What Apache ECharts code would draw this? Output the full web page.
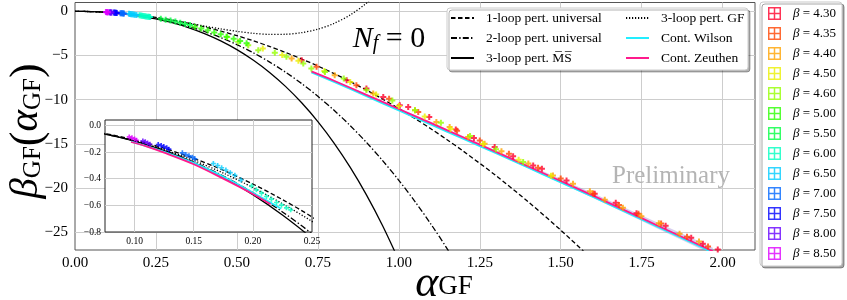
<!DOCTYPE html>
<html><head><meta charset="utf-8">
<script src="https://cdn.jsdelivr.net/npm/echarts@6/dist/echarts.min.js"></script>
<style>html,body{margin:0;padding:0;background:#fff}#c{width:847px;height:300px}</style>
</head><body><div id="c"></div>
<script>
// ---------- data ----------
const alphaGrid = [0,0.05,0.075,0.1,0.125,0.15,0.175,0.2,0.225,0.25,0.3,0.35,0.4,0.45,0.5,0.55,0.6,0.65,0.7,0.75,0.8,0.85,0.9,0.95,1.0,1.05,1.1,1.15,1.2,1.3,1.4,1.5,1.6];
const oneLoop = [0,-0.0275,-0.0619,-0.11,-0.1719,-0.2475,-0.3369,-0.44,-0.5569,-0.6875,-0.99,-1.3475,-1.76,-2.2275,-2.75,-3.3275,-3.96,-4.6475,-5.39,-6.1875,-7.04,-7.9475,-8.91,-9.9275,-11,-12.1275,-13.31,-14.5475,-15.84,-18.59,-21.56,-24.75,-28.16];
const twoLoop = [0,-0.0285,-0.0653,-0.1181,-0.1877,-0.2749,-0.3804,-0.5049,-0.6494,-0.8143,-1.2092,-1.6955,-2.2795,-2.9672,-3.7646,-4.678,-5.7133,-6.8765,-8.174,-9.6115,-11.196,-12.9325,-14.827,-16.887,-19.117,-21.524,-24.114,-26.893,-29.866];
const threeLoopMS = [0,-0.0286,-0.0656,-0.119,-0.1899,-0.2795,-0.3889,-0.5194,-0.6726,-0.8496,-1.2825,-1.8312,-2.5111,-3.3382,-4.33,-5.5058,-6.8857,-8.4915,-10.346,-12.474,-14.901,-17.654,-20.762,-24.255,-28.163];
const threeLoopGF = [0,-0.0284,-0.0645,-0.1157,-0.1818,-0.2628,-0.3579,-0.4665,-0.5879,-0.7206,-1.0148,-1.3354,-1.6651,-1.9831,-2.2646,-2.4819,-2.6029,-2.5924,-2.4116,-2.0178,-1.3656,-0.4044,0.9194,2.661];

const zeuthenLowA = [0.097,0.11,0.125,0.15,0.175,0.2,0.215];
const zeuthenLowB = [-0.125,-0.158,-0.205,-0.292,-0.4,-0.515,-0.592];
const wilsonLowA = [0.097,0.125,0.15,0.175,0.2,0.224];
const wilsonLowB = [-0.122,-0.198,-0.282,-0.385,-0.505,-0.625];
const contHighA = [0.73,0.8,0.9,1.0,1.1,1.2,1.3,1.4,1.5,1.6,1.7,1.8,1.9,1.97];
const zeuthenHighB = [-6.8,-7.85,-9.45,-11.05,-12.65,-14.27,-15.9,-17.55,-19.2,-20.85,-22.55,-24.25,-25.95,-27.15];
const zeuthenHighErr = [0.05,0.07,0.09,0.11,0.13,0.15,0.17,0.2,0.23,0.26,0.3,0.34,0.38,0.4];
const wilsonHighB = [-6.9,-7.98,-9.6,-11.22,-12.82,-14.44,-16.06,-17.7,-19.35,-21.0,-22.68,-24.38,-26.08,-27.3];

const b430 = [[0.70,-5.52],[0.839,-7.79],[0.90,-8.73],[0.952,-9.68],[1.003,-10.62],[1.029,-10.82],[1.094,-11.95],[1.176,-13.38],[1.232,-14.33],[1.296,-15.35],[1.353,-16.4],[1.415,-17.43],[1.442,-17.8],[1.518,-19.13],[1.605,-20.63],[1.67,-21.66],[1.734,-22.83],[1.824,-24.26],[1.903,-25.62],[1.939,-26.3],[1.985,-26.95]];
const b435 = [[0.746,-6.28],[0.869,-8.36],[0.97,-9.9],[1.06,-11.4],[1.18,-13.5],[1.25,-14.6],[1.34,-16.1],[1.43,-17.7],[1.5,-18.9],[1.6,-20.6],[1.68,-21.9],[1.74,-22.9],[1.81,-24.0],[1.89,-25.5],[1.955,-26.6]];
const b440 = [[0.669,-5.33],[0.802,-7.22],[0.921,-9.3],[1.05,-11.2],[1.116,-12.52],[1.157,-13.08],[1.214,-14.22],[1.265,-14.97],[1.317,-15.84],[1.4,-17.2],[1.476,-18.56],[1.538,-19.5],[1.59,-20.34],[1.636,-21.32],[1.692,-22.22],[1.749,-23.17],[1.803,-23.97],[1.867,-25.17],[1.927,-26.04]];
const b450 = [[0.58,-4.2],[0.64,-4.95],[0.69,-5.6],[0.77,-6.75],[0.85,-8.0],[0.93,-9.4],[1.0,-10.7],[1.08,-11.9],[1.16,-13.3],[1.26,-15.0],[1.37,-16.8],[1.47,-18.6]];
const b460 = [[0.47,-2.9],[0.504,-3.45],[0.535,-3.85],[0.566,-4.39],[0.617,-4.69],[0.653,-5.15],[0.705,-5.9],[0.73,-6.46],[0.772,-6.85],[0.83,-7.6],[0.9,-8.9],[0.98,-10.1],[1.05,-11.2],[1.13,-12.6],[1.22,-14.1],[1.3,-15.6],[1.384,-17.05]];
const b500 = [[0.37,-1.75],[0.39,-1.95],[0.41,-2.15],[0.43,-2.38],[0.45,-2.6],[0.468,-2.88],[0.49,-3.1],[0.51,-3.35],[0.53,-3.6]];
const b550 = [[0.265,-0.85],[0.28,-0.95],[0.295,-1.05],[0.31,-1.16],[0.325,-1.3],[0.34,-1.42],[0.355,-1.55]];
const b600 = [[0.1989,-0.455],[0.203,-0.484],[0.2073,-0.509],[0.2115,-0.534],[0.2157,-0.554],[0.22,-0.579],[0.2242,-0.599],[0.2284,-0.619],[0.232,-0.634]];
const b650 = [[0.1666,-0.286],[0.1702,-0.301],[0.1736,-0.318],[0.1772,-0.335],[0.1809,-0.355],[0.1848,-0.375],[0.19,-0.41]];
const b700 = [[0.1404,-0.206],[0.1433,-0.219],[0.146,-0.229],[0.1489,-0.239],[0.151,-0.251]];
const b750 = [[0.120,-0.144],[0.1225,-0.152],[0.1247,-0.159],[0.1272,-0.169],[0.129,-0.179]];
const b800 = [[0.107,-0.117],[0.109,-0.124],[0.111,-0.132],[0.113,-0.142]];
const b850 = [[0.0955,-0.087],[0.0978,-0.094],[0.1,-0.102],[0.1017,-0.112]];

const betaLabels = ['4.30','4.35','4.40','4.50','4.60','5.00','5.50','6.00','6.50','7.00','7.50','8.00','8.50'];
const betaColors = ['#ff002b','#ff4400','#ffa200','#eaf000','#95ff00','#2bff00','#00ff40','#00ffc0','#00ccff','#0066ff','#0000ff','#6600ff','#dd00ff'];
const betaData = [b430,b435,b440,b450,b460,b500,b550,b600,b650,b700,b750,b800,b850];
const insetBetas = ['6.00','6.50','7.00','7.50','8.00','8.50'];

const xTicksMain = {min:0, max:2.1, interval:0.25};
const yRangeMain = {min:-27, max:1};
const xRangeInset = {min:0.075, max:0.25};
const yRangeInset = {min:-0.8, max:0.04};

// ---------- chart ----------
const SERIF = "'Liberation Serif','DejaVu Serif',serif";
const plusSym = 'path://M2,0H4V2H6V4H4V6H2V4H0V2H2Z';
const boxIcon = 'path://M0,0L14,0L14,14L0,14Z M1.6,1.6L1.6,6.2L6.2,6.2L6.2,1.6Z M7.8,1.6L7.8,6.2L12.4,6.2L12.4,1.6Z M1.6,7.8L1.6,12.4L6.2,12.4L6.2,7.8Z M7.8,7.8L7.8,12.4L12.4,12.4L12.4,7.8Z';
const minus = v => (v < 0 ? '\u2212' : '');

const N1 = '1-loop pert. universal', N2 = '2-loop pert. universal', N3 = '3-loop pert. M\u0305S\u0305';
const NGF = '3-loop pert. GF', NW = 'Cont. Wilson', NZ = 'Cont. Zeuthen';

const theory = [
  {name:N1, vals:oneLoop, type:[4.5,2.5]},
  {name:N2, vals:twoLoop, type:[6,2.2,1.4,2.2]},
  {name:N3, vals:threeLoopMS, type:'solid'},
  {name:NGF, vals:threeLoopGF, type:[1.2,1.8]}
];
const series = [];
[0,1].forEach(g => {
  const zb = g === 0 ? 2 : 4;
  theory.forEach(t => {
    series.push({type:'line', name:t.name, xAxisIndex:g, yAxisIndex:g, z:zb, symbol:'none', smooth:0.3,
      data: t.vals.map((v,i)=>[alphaGrid[i], v]),
      lineStyle:{color:'#000', width:1.3, type:t.type}, itemStyle:{color:'#000'}});
  });
  series.push({type:'line', name:NW, xAxisIndex:g, yAxisIndex:g, z:zb, symbol:'none', smooth:0.3,
    data: wilsonLowA.map((a,i)=>[a, wilsonLowB[i]]), lineStyle:{color:'#22eeff', width:1.8}, itemStyle:{color:'#22eeff'}});
  series.push({type:'line', name:NZ, xAxisIndex:g, yAxisIndex:g, z:zb, symbol:'none', smooth:0.3,
    data: zeuthenLowA.map((a,i)=>[a, zeuthenLowB[i]]), lineStyle:{color:'#ff1a8c', width:1.8}, itemStyle:{color:'#ff1a8c'}});
});
series.push({type:'custom', name:'Zeuthen band', xAxisIndex:0, yAxisIndex:0, z:2, clip:true, silent:true,
  data: contHighA.map((a,i)=>[a, zeuthenHighB[i]]),
  renderItem:(params, api) => {
    if (params.dataIndex !== 0) return;
    const up = contHighA.map((a,i)=>api.coord([a, zeuthenHighB[i] + zeuthenHighErr[i]]));
    const lo = contHighA.map((a,i)=>api.coord([a, zeuthenHighB[i] - zeuthenHighErr[i]])).reverse();
    return {type:'polygon', shape:{points: up.concat(lo)}, style:{fill:'rgba(150,125,210,0.38)'}};
  }});
series.push({type:'line', name:NW, xAxisIndex:0, yAxisIndex:0, z:2, symbol:'none', smooth:0.3,
  data: contHighA.map((a,i)=>[a, wilsonHighB[i]]), lineStyle:{color:'#22eeff', width:1.8}, itemStyle:{color:'#22eeff'}});
series.push({type:'line', name:NZ, xAxisIndex:0, yAxisIndex:0, z:2, symbol:'none', smooth:0.3,
  data: contHighA.map((a,i)=>[a, zeuthenHighB[i]]), lineStyle:{color:'#ff1a8c', width:1.8}, itemStyle:{color:'#ff1a8c'}});

betaLabels.forEach((b,k) => {
  const nm = '\u03b2 = ' + b;
  series.push({type:'scatter', name:nm, xAxisIndex:0, yAxisIndex:0, z:3, symbol:plusSym, symbolSize:6,
    data: betaData[k], itemStyle:{color:betaColors[k]}});
  if (insetBetas.indexOf(b) >= 0) {
    series.push({type:'scatter', name:nm, xAxisIndex:1, yAxisIndex:1, z:5, symbol:plusSym, symbolSize:5,
      data: betaData[k], itemStyle:{color:betaColors[k]}});
  }
});

const gridLine = {show:true, showMinLine:false, showMaxLine:false, lineStyle:{color:'#cdcdcd', width:1}};
const lblMain = {fontFamily:SERIF, fontSize:15, color:'#000'};
const lblInset = {fontFamily:SERIF, fontSize:9.5, color:'#000'};
const lineLegend = {orient:'vertical', itemWidth:23, itemHeight:13, itemGap:6, padding:0,
  itemStyle:{opacity:0}, textStyle:{fontFamily:SERIF, fontSize:13.5, color:'#000', padding:[0,0,0,7]}, z:5};

const option = {
  animation:false,
  backgroundColor:'#fff',
  grid:[
    {left:75, right:92, top:2.5, bottom:50, show:true, borderColor:'#555', borderWidth:1, backgroundColor:'#fff', outerBoundsMode:'none', containLabel:false},
    {left:105, top:120, width:207, height:112, show:true, borderColor:'#222', borderWidth:1, backgroundColor:'#fff', z:3, outerBoundsMode:'none', containLabel:false}
  ],
  xAxis:[
    {type:'value', gridIndex:0, min:xTicksMain.min, max:xTicksMain.max, interval:xTicksMain.interval,
      axisLine:{show:false}, axisTick:{show:false}, splitLine:gridLine,
      axisLabel:Object.assign({margin:6, showMaxLabel:false, formatter:v=>v.toFixed(2)}, lblMain)},
    {type:'value', gridIndex:1, z:3, min:xRangeInset.min, max:xRangeInset.max, splitNumber:4,
      axisLine:{show:false}, axisTick:{show:false}, splitLine:gridLine,
      axisLabel:Object.assign({margin:4, showMinLabel:false, showMaxLabel:true, formatter:v=>v.toFixed(2)}, lblInset)}
  ],
  yAxis:[
    {type:'value', gridIndex:0, min:yRangeMain.min, max:yRangeMain.max, splitNumber:5,
      axisLine:{show:false}, axisTick:{show:false}, splitLine:gridLine,
      axisLabel:Object.assign({margin:7, showMinLabel:false, showMaxLabel:false, formatter:v=>minus(v)+Math.abs(v)}, lblMain)},
    {type:'value', gridIndex:1, z:3, min:yRangeInset.min, max:yRangeInset.max, splitNumber:4,
      axisLine:{show:false}, axisTick:{show:false}, splitLine:gridLine,
      axisLabel:Object.assign({margin:4, showMinLabel:true, showMaxLabel:false, formatter:v=>minus(v)+Math.abs(v).toFixed(1)}, lblInset)}
  ],
  legend:[
    Object.assign({left:450, top:11, data:[N1,N2,N3]}, lineLegend),
    Object.assign({left:625, top:11, data:[NGF,NW,NZ]}, lineLegend),
    {left:760, top:2, orient:'vertical', itemWidth:13, itemHeight:13, itemGap:7, padding:[5,6,6,8],
      icon:boxIcon, data:betaLabels.map(b=>'\u03b2 = '+b),
      backgroundColor:'#fff', borderColor:'#c8c8c8', borderWidth:1, borderRadius:3,
      shadowColor:'rgba(0,0,0,0.35)', shadowOffsetX:2, shadowOffsetY:2, shadowBlur:0,
      formatter: n => '{i|\u03b2} = ' + n.split('= ')[1],
      textStyle:{fontFamily:SERIF, fontSize:13, color:'#000', padding:[0,0,0,7], rich:{i:{fontFamily:SERIF, fontSize:13, fontStyle:'italic'}}}}
  ],
  graphic:[
    {type:'rect', z:3, shape:{x:447, y:8, width:301, height:62, r:3},
      style:{fill:'#fff', stroke:'#cccccc', lineWidth:1, shadowColor:'rgba(0,0,0,0.3)', shadowOffsetX:2, shadowOffsetY:2, shadowBlur:0}},
    {type:'text', z:1, x:671, y:176, style:{text:'Preliminary', fontFamily:SERIF, fontSize:25, fill:'#b4b4b4', align:'center', verticalAlign:'middle'}},
    {type:'text', z:5, x:389, y:39, style:{text:'{n|N}{s|f}{e| = 0}', fill:'#000', align:'center', verticalAlign:'middle',
      rich:{n:{fontFamily:SERIF, fontSize:30, fontStyle:'italic', verticalAlign:'top', lineHeight:30},
            s:{fontFamily:SERIF, fontSize:20, fontStyle:'italic', verticalAlign:'bottom', lineHeight:20, padding:[14,0,0,0]},
            e:{fontFamily:SERIF, fontSize:30, verticalAlign:'top', lineHeight:30}}}},
    {type:'text', z:5, x:444, y:281, style:{text:'{a|\u03b1}{s|GF}', fill:'#000', align:'center', verticalAlign:'middle',
      rich:{a:{fontFamily:SERIF, fontSize:44, fontStyle:'italic', verticalAlign:'top', lineHeight:38},
            s:{fontFamily:SERIF, fontSize:27, verticalAlign:'bottom', lineHeight:27, padding:[17,0,0,0]}}}},
    {type:'text', z:5, x:26, y:131, rotation:Math.PI/2, style:{text:'{b|\u03b2}{s|GF}{p|(}{a|\u03b1}{s|GF}{p|)}', fill:'#000', align:'center', verticalAlign:'middle',
      rich:{b:{fontFamily:SERIF, fontSize:41, fontStyle:'italic', verticalAlign:'top', lineHeight:40},
            a:{fontFamily:SERIF, fontSize:41, fontStyle:'italic', verticalAlign:'top', lineHeight:40},
            p:{fontFamily:SERIF, fontSize:44, verticalAlign:'top', lineHeight:40},
            s:{fontFamily:SERIF, fontSize:25, verticalAlign:'bottom', lineHeight:25, padding:[18,0,0,0]}}}}
  ],
  series: series
};
const chart = echarts.init(document.getElementById('c'));
chart.setOption(option);
</script></body></html>
